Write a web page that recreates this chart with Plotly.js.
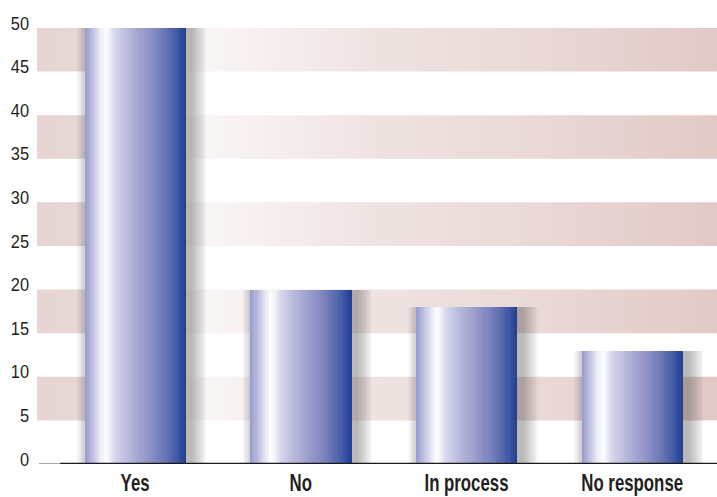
<!DOCTYPE html>
<html>
<head>
<meta charset="utf-8">
<script src="https://cdn.plot.ly/plotly-3.0.1.min.js"></script>
<style>html,body{margin:0;padding:0;background:#fff;}#chart{width:717px;height:497px;}</style>
</head>
<body>
<div id="chart"></div>
<script>
// ---- data ----
const categories = ["Yes", "No", "In process", "No response"];
const values = [50, 20, 18, 13];
const yTickVals = [0, 5, 10, 15, 20, 25, 30, 35, 40, 45, 50];
const bandStarts = [5, 15, 25, 35, 45];
const bandSize = 5;

// ---- style / geometry ----
const xRange = [-0.592, 3.512];
const yRange = [0, 53.2];
const barW = 0.61;
const nSlices = 48;
const barScale = [
  [0.00, [150, 153, 203]],
  [0.08, [190, 192, 225]],
  [0.16, [236, 237, 247]],
  [0.21, [255, 255, 255]],
  [0.30, [214, 215, 236]],
  [0.45, [180, 181, 217]],
  [0.60, [152, 154, 203]],
  [0.75, [118, 127, 186]],
  [0.90, [72, 93, 166]],
  [1.00, [30, 62, 152]]
];
function lerpColor(t) {
  for (let i = 1; i < barScale.length; i++) {
    if (t <= barScale[i][0]) {
      const a = barScale[i - 1], b = barScale[i];
      const f = (t - a[0]) / (b[0] - a[0]);
      const c = a[1].map((v, k) => Math.round(v + (b[1][k] - v) * f));
      return `rgb(${c[0]},${c[1]},${c[2]})`;
    }
  }
  const c = barScale[barScale.length - 1][1];
  return `rgb(${c[0]},${c[1]},${c[2]})`;
}
const xIdx = categories.map((c, i) => i);

const traces = [];
// background bands with horizontal gradient
bandStarts.forEach(b => {
  traces.push({
    type: 'scatter', mode: 'lines', xaxis: 'x', yaxis: 'y',
    x: [xRange[0], xRange[1], xRange[1], xRange[0], xRange[0]],
    y: [b, b, b + bandSize, b + bandSize, b],
    fill: 'toself', line: {width: 0, color: 'rgba(0,0,0,0)'},
    fillgradient: {
      type: 'horizontal', start: xRange[0], stop: xRange[1],
      colorscale: [[0, '#e6d5d3'], [0.07, '#e7d7d5'], [0.22, '#fbf8f8'], [0.5, '#efe3e1'], [0.77, '#e9d7d5'], [1, '#e2c9c6']]
    },
    hoverinfo: 'skip', showlegend: false
  });
});
// soft shadows
const nShadow = 10;
for (let k = 1; k <= nShadow; k++) {
  traces.push({
    type: 'bar', xaxis: 'x2', yaxis: 'y2',
    x: xIdx, y: values.map(v => v + 0.3 + k * 0.14),
    base: values.map(() => -0.3 - k * 0.14),
    width: barW + k * 0.017,
    offset: -barW / 2 + 0.03 - k * 0.0075,
    marker: {color: 'rgba(60,60,60,0.042)', line: {width: 0}},
    hoverinfo: 'skip', showlegend: false
  });
}
// gradient bars built from slices
const sw = barW / nSlices;
for (let i = 0; i < nSlices; i++) {
  traces.push({
    type: 'bar', xaxis: 'x2', yaxis: 'y2',
    x: xIdx, y: values,
    width: sw * 1.15,
    offset: -barW / 2 + i * sw,
    marker: {color: lerpColor((i + 0.5) / nSlices), line: {width: 0}},
    hoverinfo: i === 0 ? 'y' : 'skip', showlegend: false
  });
}

const tickFont = {family: '"Liberation Sans Narrow", "Liberation Sans", sans-serif', size: 19, color: '#231f20'};
const catFont = {family: '"Liberation Sans Narrow", "Liberation Sans", sans-serif', size: 24, color: '#231f20', weight: 'bold'};

const layout = {
  width: 717, height: 497,
  margin: {l: 37, r: 0, t: 0, b: 33, pad: 0},
  paper_bgcolor: '#ffffff', plot_bgcolor: '#ffffff',
  barmode: 'overlay', bargap: 0,
  showlegend: false,
  xaxis: {
    range: xRange, tickvals: xIdx, ticktext: categories,
    showgrid: false, zeroline: false, showline: false, ticks: '',
    tickfont: catFont, ticklabelstandoff: 2, fixedrange: true
  },
  yaxis: {
    range: yRange, tickvals: yTickVals,
    showgrid: false, zeroline: false, showline: false, ticks: '',
    tickfont: tickFont, ticklabelstandoff: 7, ticklabelshift: -5, fixedrange: true
  },
  xaxis2: {overlaying: 'x', range: xRange, visible: false, fixedrange: true},
  yaxis2: {overlaying: 'y', range: yRange, visible: false, fixedrange: true},
  shapes: [
    {type: 'line', xref: 'paper', yref: 'y', x0: 0.003, x1: 0.034, y0: 0, y1: 0, line: {color: '#555555', width: 1}, layer: 'above'},
    {type: 'line', xref: 'paper', yref: 'y', x0: 0.034, x1: 1, y0: 0, y1: 0, line: {color: '#1a1a1a', width: 2.5}, layer: 'above'}
  ]
};
function compress(t, f) {
  const w = t.getComputedTextLength();
  t.setAttribute('textLength', (w * f).toFixed(1));
  t.setAttribute('lengthAdjust', 'spacingAndGlyphs');
}
Plotly.newPlot('chart', traces, layout, {displayModeBar: false, staticPlot: true}).then(gd => {
  gd.querySelectorAll('.xtick text').forEach(t => compress(t, 0.7));
  gd.querySelectorAll('.ytick text').forEach(t => compress(t, 0.86));
});
</script>
</body>
</html>
